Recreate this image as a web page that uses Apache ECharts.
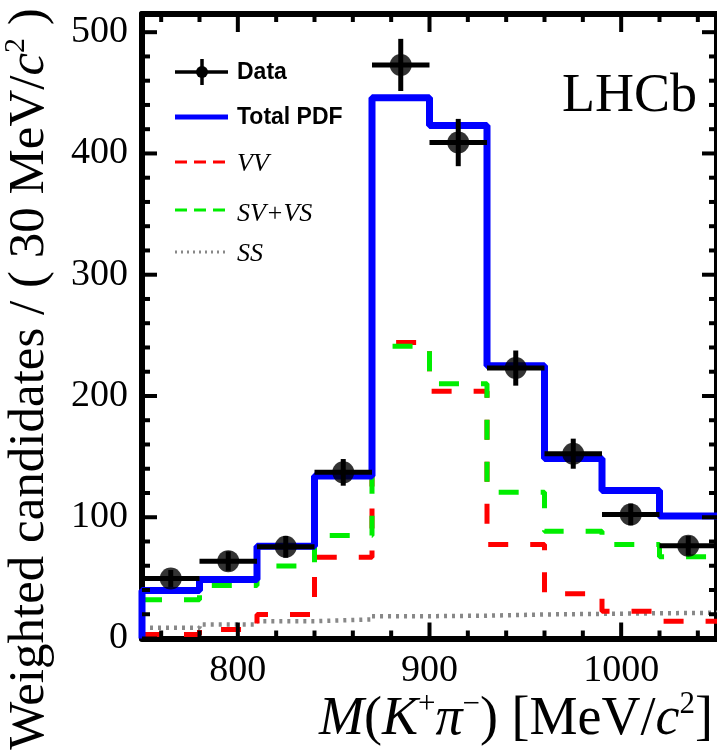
<!DOCTYPE html>
<html><head><meta charset="utf-8">
<script src="https://cdn.jsdelivr.net/npm/echarts@6/dist/echarts.min.js"></script>
<style>html,body{margin:0;padding:0;background:#fff;} #c{width:717px;height:751px;}</style>
</head><body><div id="c"></div>
<script>
// ---- data ----
const binCenters = [765, 795, 825, 855, 885, 915, 945, 975, 1005, 1035];
const binWidth = 30;
const dataValues = [49.5, 63.8, 75.6, 137, 473, 409, 223, 152.4, 102.3, 76.5];
const dataErrors = [7, 8, 9, 11, 21.5, 19.5, 14.5, 12.4, 9, 8];
const totalPdf = [39.5, 48.6, 76, 134, 446, 423, 225, 148.5, 122, 101];
const vvValues = [3.3, 7.4, 19.8, 67, 244, 204, 77.5, 37, 22.5, 14.3];
const svVsValues = [32, 43.7, 59.7, 85, 241, 210, 120.7, 88.5, 77.5, 67.4];
const ssValues = [8.8, 11.5, 14.3, 15.7, 18.4, 18.8, 19.8, 20.3, 20.8, 21.2];
const xMajorTicks = [800, 900, 1000];
const yMajorTicks = [0, 100, 200, 300, 400, 500];
const xRange = [750, 1050];
const yRange = [0, 515];

// ---- helpers ----
function stepData(vals, fromZero) {
  const out = [];
  const lo = binCenters[0] - binWidth / 2;
  if (fromZero) out.push([lo, 0]);
  for (let i = 0; i < vals.length; i++) out.push([binCenters[i] - binWidth / 2, vals[i]]);
  out.push([binCenters[vals.length - 1] + binWidth / 2, vals[vals.length - 1]]);
  return out;
}
function minorTicks(lo, hi, step, majors) {
  const out = [];
  for (let v = Math.ceil(lo / step) * step; v <= hi; v += step) if (majors.indexOf(v) < 0) out.push(v);
  return out;
}
const xMinor = minorTicks(xRange[0], xRange[1], 20, xMajorTicks);
const yMinor = minorTicks(yRange[0], yRange[1], 20, yMajorTicks);

const serif = 'Liberation Serif, Times New Roman, serif';
const sans = 'Liberation Sans, Arial, sans-serif';

function axisBase(withLabels, ticks) {
  return {
    axisLine: {show: true, onZero: false, lineStyle: {color: '#000', width: 6}},
    splitLine: {show: false},
    axisTick: {show: false},
    axisLabel: withLabels ? {show: true, customValues: ticks, margin: 14, fontFamily: serif, fontSize: 38, color: '#000',
                             formatter: function (v) { return String(v); }} : {show: false}
  };
}

function makeLegendAndTitles() {
  return [
    {type: 'line', shape: {x1: 175, y1: 72, x2: 228, y2: 72}, style: {stroke: '#000', lineWidth: 3.5}, z: 10},
    {type: 'line', shape: {x1: 202, y1: 59, x2: 202, y2: 85}, style: {stroke: '#000', lineWidth: 3.5}, z: 10},
    {type: 'circle', shape: {cx: 202, cy: 72, r: 6}, style: {fill: '#000'}, z: 10},
    {type: 'text', x: 237, y: 73, style: {text: 'Data', fontFamily: sans, fontWeight: 'bold', fontSize: 23, fill: '#000', verticalAlign: 'middle'}, z: 10},
    {type: 'line', shape: {x1: 175, y1: 117, x2: 228, y2: 117}, style: {stroke: '#0000ff', lineWidth: 5}, z: 10},
    {type: 'text', x: 237, y: 118, style: {text: 'Total PDF', fontFamily: sans, fontWeight: 'bold', fontSize: 23, fill: '#000', verticalAlign: 'middle'}, z: 10},
    {type: 'line', shape: {x1: 175, y1: 162, x2: 228, y2: 162}, style: {stroke: '#ff0000', lineWidth: 3, lineDash: [12, 7]}, z: 10},
    {type: 'text', x: 237, y: 164, style: {text: 'VV', fontFamily: serif, fontStyle: 'italic', fontSize: 26, fill: '#000', verticalAlign: 'middle'}, z: 10},
    {type: 'line', shape: {x1: 175, y1: 210, x2: 228, y2: 210}, style: {stroke: '#00ee00', lineWidth: 3, lineDash: [12, 7]}, z: 10},
    {type: 'text', x: 237, y: 214, style: {text: 'SV+VS', fontFamily: serif, fontStyle: 'italic', fontSize: 26, fill: '#000', verticalAlign: 'middle'}, z: 10},
    {type: 'line', shape: {x1: 175, y1: 252, x2: 228, y2: 252}, style: {stroke: '#888888', lineWidth: 3, lineDash: [2, 4]}, z: 10},
    {type: 'text', x: 237, y: 254, style: {text: 'SS', fontFamily: serif, fontStyle: 'italic', fontSize: 26, fill: '#000', verticalAlign: 'middle'}, z: 10},
    {type: 'text', x: 562, y: 97, style: {text: 'LHCb', fontFamily: serif, fontSize: 54, fill: '#000', verticalAlign: 'middle'}, z: 10},
    {type: 'text', x: 713, y: 720, z: 10,
     style: {text: '{i|M}{n|(}{i|K}{sup|+}{i|π}{sup|−}{n|) [MeV/}{i|c}{sup|2}{n|]}', align: 'right', verticalAlign: 'middle',
       fontFamily: serif, fontSize: 54, fill: '#000',
       rich: {
         n: {fontFamily: serif, fontSize: 54, lineHeight: 62, fill: '#000'},
         i: {fontFamily: serif, fontSize: 54, fontStyle: 'italic', lineHeight: 62, fill: '#000'},
         sup: {fontFamily: serif, fontSize: 31, lineHeight: 62, verticalAlign: 'top', fill: '#000'}
       }}},
    {type: 'text', x: 30, y: 379, rotation: Math.PI / 2, z: 10,
     style: {text: '{n|Weighted candidates / ( 30 MeV/}{i|c}{sup|2}{n| )}', align: 'center', verticalAlign: 'middle',
       fontFamily: serif, fontSize: 51, fill: '#000',
       rich: {
         n: {fontFamily: serif, fontSize: 51, lineHeight: 58, fill: '#000'},
         i: {fontFamily: serif, fontSize: 51, fontStyle: 'italic', lineHeight: 58, fill: '#000'},
         sup: {fontFamily: serif, fontSize: 30, lineHeight: 58, verticalAlign: 'top', fill: '#000'}
       }}}
  ];
}

const chart = echarts.init(document.getElementById('c'), null, {renderer: 'canvas'});
chart.setOption({
  animation: false,
  backgroundColor: '#fff',
  grid: {left: 142, right: -2, top: 14, bottom: 112.5, show: false},
  xAxis: [
    Object.assign({type: 'value', position: 'bottom', min: xRange[0], max: xRange[1]}, axisBase(true, xMajorTicks)),
    Object.assign({type: 'value', position: 'top', min: xRange[0], max: xRange[1]}, axisBase(false))
  ],
  yAxis: [
    Object.assign({type: 'value', position: 'left', min: yRange[0], max: yRange[1]}, axisBase(true, yMajorTicks)),
    Object.assign({type: 'value', position: 'right', min: yRange[0], max: yRange[1]}, axisBase(false))
  ],
  series: [
    {name: 'SS', type: 'line', step: 'end', clip: false, symbol: 'none', data: stepData(ssValues, false),
     lineStyle: {color: '#888888', width: 4.5, type: [3, 5]}, z: 2},
    {name: 'VV', type: 'line', step: 'end', clip: false, symbol: 'none', data: stepData(vvValues, false),
     lineStyle: {color: '#ff0000', width: 5, type: [20, 22]}, z: 3},
    {name: 'SV+VS', type: 'line', step: 'end', clip: false, symbol: 'none', data: stepData(svVsValues, false),
     lineStyle: {color: '#00ee00', width: 5, type: [20, 22]}, z: 4},
    {name: 'Total PDF', type: 'line', step: 'end', clip: false, symbol: 'none', data: stepData(totalPdf, true),
     lineStyle: {color: '#0000ff', width: 7}, z: 5},
    {name: 'Data errors', type: 'custom', z: 6,
     data: binCenters.map((c, i) => [c, dataValues[i], dataErrors[i]]),
     renderItem: function (params, api) {
       const x = api.value(0), y = api.value(1), e = api.value(2);
       const l = api.coord([x - binWidth / 2, y]), r = api.coord([x + binWidth / 2, y]);
       const t = api.coord([x, y + e]), b = api.coord([x, y - e]);
       return {type: 'group', children: [
         {type: 'line', shape: {x1: l[0], y1: l[1], x2: r[0], y2: r[1]}, style: {stroke: '#000', lineWidth: 5}},
         {type: 'line', shape: {x1: t[0], y1: t[1], x2: b[0], y2: b[1]}, style: {stroke: '#000', lineWidth: 5}}
       ]};
     }},
    {name: 'Data', type: 'scatter', z: 7, symbol: 'circle', symbolSize: 22,
     itemStyle: {color: '#000'}, data: binCenters.map((c, i) => [c, dataValues[i]])}
  ]
});

// ---- tick marks on all four sides, positioned through the chart's own scales ----
let allGraphics = makeLegendAndTitles();
try {
  const toPx = (x, y) => chart.convertToPixel({xAxisIndex: 0, yAxisIndex: 0}, [x, y]);
  const ticks = [];
  const addX = (v, lenB, lenT) => {
    const a = toPx(v, yRange[0]), b = toPx(v, yRange[1]);
    ticks.push({type: 'line', z: 9, shape: {x1: a[0], y1: a[1], x2: a[0], y2: a[1] - lenB}, style: {stroke: '#000', lineWidth: 4}});
    ticks.push({type: 'line', z: 9, shape: {x1: b[0], y1: b[1], x2: b[0], y2: b[1] + lenT}, style: {stroke: '#000', lineWidth: 4}});
  };
  const addY = (v, len) => {
    const a = toPx(xRange[0], v), b = toPx(xRange[1], v);
    ticks.push({type: 'line', z: 9, shape: {x1: a[0], y1: a[1], x2: a[0] + len, y2: a[1]}, style: {stroke: '#000', lineWidth: 4}});
    ticks.push({type: 'line', z: 9, shape: {x1: b[0], y1: b[1], x2: b[0] - len, y2: b[1]}, style: {stroke: '#000', lineWidth: 4}});
  };
  xMajorTicks.forEach(v => addX(v, 16, 18));
  xMinor.forEach(v => addX(v, 8, 8));
  yMajorTicks.forEach(v => addY(v, 15));
  yMinor.forEach(v => addY(v, 8));
  allGraphics = allGraphics.concat(ticks);
} catch (e) {
  allGraphics.push({type: 'text', x: 300, y: 300, style: {text: 'ERR ' + e.message, fontSize: 14, fill: '#f00'}});
}
chart.setOption({graphic: allGraphics});
</script>
</body></html>
